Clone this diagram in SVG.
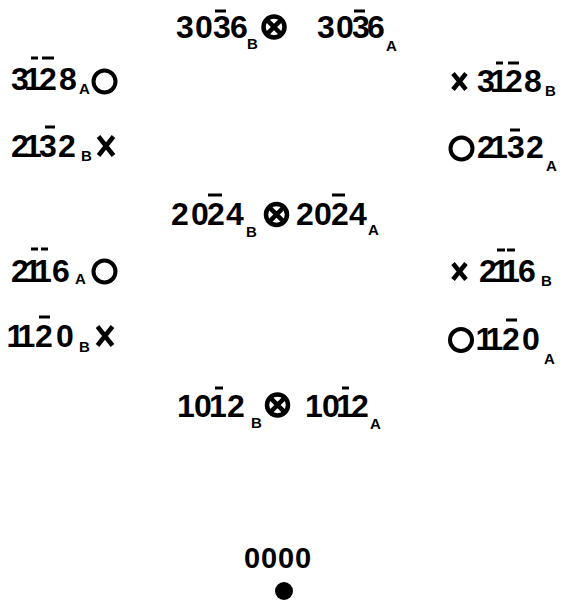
<svg xmlns="http://www.w3.org/2000/svg" width="571" height="602" viewBox="0 0 571 602">
  <style>
    .d { font-family: "Liberation Sans", Arial, sans-serif; font-weight: bold; font-size: 32px; fill: #000; }
    .z { font-family: "Liberation Sans", Arial, sans-serif; font-weight: bold; font-size: 29px; fill: #000; }
    .s { font-family: "Liberation Sans", Arial, sans-serif; font-weight: bold; font-size: 15px; fill: #000; }
    .bar { stroke: #000; stroke-width: 3; }
    .ring { fill: none; stroke: #000; stroke-width: 4; }
    .ring2 { fill: none; stroke: #000; stroke-width: 4.5; }
    .cross { stroke: #000; stroke-width: 4.5; }
    .xm { stroke: #000; stroke-width: 4.5; }
  </style>
  <defs>
    <!-- open circle: A-site reflection -->
    <g id="ring"><circle r="11" class="ring"/></g>
    <!-- circle with cross: coincident A and B reflections -->
    <g id="ox"><circle r="10.5" class="ring2"/><path d="M-7.6-7.6L7.6 7.6M7.6-7.6L-7.6 7.6" class="cross"/></g>
    <!-- cross: B-site reflection -->
    <g id="xb"><path d="M-7.5-9.5L7.5 9.5M7.5-9.5L-7.5 9.5" class="xm"/></g>
    <g id="xs"><path d="M-6.5-8L6.5 8M6.5-8L-6.5 8" class="xm"/></g>
  </defs>

  <g id="connectors"></g>

  <!-- row 1 -->
  <g id="r1-b">
    <text class="d" x="176 195 213 230" y="38">3036</text>
    <line class="bar" x1="215" y1="11" x2="226" y2="11"/>
    <text class="s" x="247" y="49">B</text>
  </g>
  <g id="r1-mark"><use href="#ox" x="274" y="27"/></g>
  <g id="r1-a">
    <text class="d" x="317 336 352 367" y="38">3036</text>
    <line class="bar" x1="354" y1="11" x2="365" y2="11"/>
    <text class="s" x="386" y="51">A</text>
  </g>

  <!-- row 2 -->
  <g id="r2-a">
    <text class="d" x="11 24 39 59" y="90">3128</text>
    <line class="bar" x1="31" y1="58" x2="38" y2="58"/>
    <line class="bar" x1="42" y1="58" x2="54" y2="58"/>
    <text class="s" x="79" y="94">A</text>
    <use href="#ring" x="104.5" y="81.5"/>
  </g>
  <g id="r2-b">
    <use href="#xs" x="459.5" y="81.5"/>
    <text class="d" x="477 490 505 524" y="92">3128</text>
    <line class="bar" x1="496" y1="63" x2="503" y2="63"/>
    <line class="bar" x1="508" y1="63" x2="519" y2="63"/>
    <text class="s" x="545" y="96">B</text>
  </g>

  <!-- row 3 -->
  <g id="r3-b">
    <text class="d" x="11 24 39 58" y="157">2132</text>
    <line class="bar" x1="45" y1="127" x2="55" y2="127"/>
    <text class="s" x="81" y="161">B</text>
    <use href="#xb" x="106" y="146"/>
  </g>
  <g id="r3-a">
    <use href="#ring" x="461.5" y="148.5"/>
    <text class="d" x="477 490 507 526" y="158">2132</text>
    <line class="bar" x1="510" y1="130" x2="520" y2="130"/>
    <text class="s" x="546" y="171">A</text>
  </g>

  <!-- row 4 -->
  <g id="r4-b">
    <text class="d" x="171 191 207 226" y="225">2024</text>
    <line class="bar" x1="208" y1="195" x2="222" y2="195"/>
    <text class="s" x="246" y="237">B</text>
  </g>
  <g id="r4-mark"><use href="#ox" x="276.5" y="214.5"/></g>
  <g id="r4-a">
    <text class="d" x="296 314 331 349" y="225">2024</text>
    <line class="bar" x1="332" y1="195" x2="345" y2="195"/>
    <text class="s" x="368" y="235">A</text>
  </g>

  <!-- row 5 -->
  <g id="r5-a">
    <text class="d" x="11 24 34 52" y="282">2116</text>
    <line class="bar" x1="31" y1="249" x2="38" y2="249"/>
    <line class="bar" x1="41" y1="249" x2="48" y2="249"/>
    <text class="s" x="75" y="284">A</text>
    <use href="#ring" x="104.5" y="271.5"/>
  </g>
  <g id="r5-b">
    <use href="#xs" x="459.5" y="271.5"/>
    <text class="d" x="479 492 502 518" y="282">2116</text>
    <line class="bar" x1="497" y1="250" x2="505" y2="250"/>
    <line class="bar" x1="507" y1="250" x2="515" y2="250"/>
    <text class="s" x="541" y="286">B</text>
  </g>

  <!-- row 6 -->
  <g id="r6-b">
    <text class="d" x="6.5 17.5 35 56" y="347">1120</text>
    <line class="bar" x1="39" y1="317" x2="50" y2="317"/>
    <text class="s" x="79" y="352">B</text>
    <use href="#xb" x="105" y="336"/>
  </g>
  <g id="r6-a">
    <use href="#ring" x="461" y="340"/>
    <text class="d" x="475.5 485.5 502 522" y="350">1120</text>
    <line class="bar" x1="506" y1="320" x2="517" y2="320"/>
    <text class="s" x="544" y="364">A</text>
  </g>

  <!-- row 7 -->
  <g id="r7-b">
    <text class="d" x="177 194 209 227" y="417">1012</text>
    <line class="bar" x1="215" y1="388" x2="223" y2="388"/>
    <text class="s" x="251" y="428">B</text>
  </g>
  <g id="r7-mark"><use href="#ox" x="277.5" y="405"/></g>
  <g id="r7-a">
    <text class="d" x="305 322 336 351" y="417">1012</text>
    <line class="bar" x1="342" y1="388" x2="349" y2="388"/>
    <text class="s" x="370" y="429">A</text>
  </g>

  <!-- origin -->
  <g id="origin">
    <text class="z" x="244 261 278 295" y="568">0000</text>
    <circle cx="284" cy="591" r="9" fill="#000"/>
  </g>
</svg>
